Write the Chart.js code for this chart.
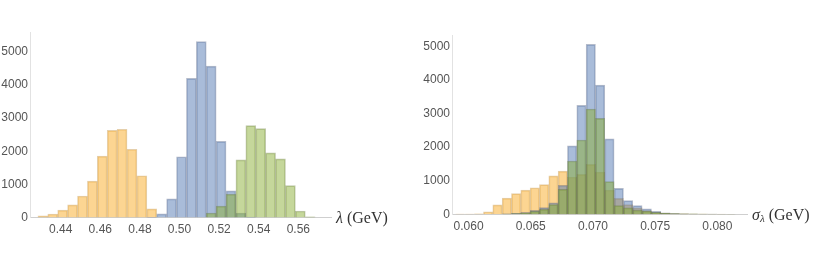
<!DOCTYPE html>
<html>
<head>
<meta charset="utf-8">
<script src="https://cdn.jsdelivr.net/npm/chart.js@4.4.0/dist/chart.umd.min.js"></script>
<style>
  html, body { margin: 0; padding: 0; background: #fff; }
  #wrap { position: relative; width: 817px; height: 268px; overflow: hidden; }
  .panel { position: absolute; top: 0; }
</style>
</head>
<body>
<div id="wrap">
  <div class="panel" style="left:0px"><canvas id="lambdaChart" width="400" height="268"></canvas></div>
  <div class="panel" style="left:400px"><canvas id="sigmaChart" width="417" height="268"></canvas></div>
</div>
<script>
// left histogram: lambda (GeV), bin centres and counts
const lambdaBins = [0.431, 0.436, 0.441, 0.446, 0.451, 0.456, 0.461, 0.466, 0.471, 0.476,
  0.481, 0.486, 0.491, 0.496, 0.501, 0.506, 0.511, 0.516, 0.521, 0.526,
  0.531, 0.536, 0.541, 0.546, 0.551, 0.556, 0.561, 0.566];
const lambdaYellow = [47, 105, 225, 380, 650, 1100, 1855, 2630, 2665, 2060,
  1260, 262, 0, 0, 0, 0, 0, 0, 0, 0,
  0, 0, 0, 0, 0, 0, 0, 0];
const lambdaBlue = [0, 0, 0, 0, 0, 0, 0, 0, 0, 0,
  0, 8, 108, 563, 1835, 4200, 5310, 4571, 2298, 803,
  136, 10, 0, 0, 0, 0, 0, 0];
const lambdaGreen = [0, 0, 0, 0, 0, 0, 0, 0, 0, 0,
  0, 0, 0, 0, 0, 0, 0, 135, 343, 707,
  1742, 2773, 2682, 1950, 1768, 960, 197, 20];
const lambdaTicks = [0.44, 0.46, 0.48, 0.50, 0.52, 0.54, 0.56];

// right histogram: sigma_lambda (GeV)
const sigmaBins = [0.059325, 0.060075, 0.060825, 0.061575, 0.062325, 0.063075, 0.063825,
  0.064575, 0.065325, 0.066075, 0.066825, 0.067575, 0.068325, 0.069075, 0.069825,
  0.070575, 0.071325, 0.072075, 0.072825, 0.073575, 0.074325, 0.075075, 0.075825,
  0.076575, 0.077325, 0.078075, 0.078825, 0.079575, 0.080325, 0.081075];
const sigmaYellow = [10, 10, 14, 75, 280, 480, 615, 720, 790, 883, 1146, 1285, 1111, 1190, 1488,
  1260, 724, 476, 290, 190, 110, 60, 35, 20, 15, 10, 6, 4, 3, 2];
const sigmaBlue = [0, 0, 0, 0, 0, 12, 30, 60, 120, 200, 345, 865, 2040, 3244, 5060,
  3849, 2245, 774, 407, 258, 160, 90, 45, 25, 12, 8, 5, 3, 2, 1];
const sigmaGreen = [0, 0, 0, 0, 0, 10, 20, 40, 90, 145, 290, 740, 1587, 2212, 3135,
  2857, 972, 258, 190, 125, 95, 55, 30, 20, 15, 12, 6, 3, 2, 1];
const sigmaTicks = [0.060, 0.065, 0.070, 0.075, 0.080];

const countTicks = [0, 1000, 2000, 3000, 4000, 5000];

const yellowFill = "rgba(250,172,38,0.5)";
const blueFill = "rgba(84,122,180,0.5)";
const greenFill = "rgba(140,175,55,0.5)";

function points(bins, counts) {
  const out = [];
  for (let i = 0; i < bins.length; i++) {
    if (counts[i] > 0) out.push({ x: bins[i], y: counts[i] });
  }
  return out;
}

// axis title drawn to the right of the x axis line
function axisLabel(parts) {
  return {
    id: "axisLabel",
    afterDraw(chart) {
      const ctx = chart.ctx;
      const area = chart.chartArea;
      let x = area.right + 5;
      const y = area.bottom + 1;
      ctx.save();
      ctx.fillStyle = "#333";
      ctx.textBaseline = "middle";
      ctx.textAlign = "left";
      parts.forEach((p) => {
        ctx.font = p.font;
        ctx.fillText(p.text, x, y + (p.dy || 0));
        x += ctx.measureText(p.text).width + (p.gap || 0);
      });
      ctx.restore();
    },
  };
}

function makeChart(id, bins, yellow, blue, green, xTicks, digits, xr, yMax, pad, labelParts) {
  const ds = (data, fill, border) => ({
    data: data,
    backgroundColor: fill,
    borderColor: border,
    borderWidth: 1,
    borderSkipped: "start",
    barPercentage: 1,
    categoryPercentage: 1,
    grouped: false,
  });
  return new Chart(document.getElementById(id), {
    type: "bar",
    data: {
      datasets: [
        ds(points(bins, green), greenFill, "rgba(95,115,45,0.4)"),
        ds(points(bins, blue), blueFill, "rgba(70,88,125,0.4)"),
        ds(points(bins, yellow), yellowFill, "rgba(190,135,45,0.4)"),
      ],
    },
    options: {
      responsive: false,
      animation: false,
      devicePixelRatio: 1,
      layout: { padding: pad },
      plugins: { legend: { display: false }, tooltip: { enabled: false } },
      scales: {
        x: {
          type: "linear",
          min: xr[0],
          max: xr[1],
          offset: false,
          grid: { display: false, drawTicks: false },
          border: { display: true, color: "#cfcfcf", width: 1 },
          afterBuildTicks: (s) => { s.ticks = xTicks.map((v) => ({ value: v })); },
          afterFit: (s) => { s.height = 20; },
          ticks: {
            color: "#555",
            font: { family: "'Liberation Sans', Arial, sans-serif", size: 12 },
            padding: 5,
            maxRotation: 0,
            autoSkip: false,
            callback: (v) => Number(v).toFixed(digits),
          },
        },
        y: {
          min: 0,
          max: yMax,
          grid: { display: false, drawTicks: false },
          border: { display: true, color: "#e2e2e2", width: 1 },
          afterBuildTicks: (s) => { s.ticks = countTicks.map((v) => ({ value: v })); },
          afterFit: (s) => { s.width = 30; },
          ticks: {
            color: "#555",
            font: { family: "'Liberation Sans', Arial, sans-serif", size: 12 },
            padding: 2,
            autoSkip: false,
            callback: (v) => String(v),
          },
        },
      },
    },
    plugins: [axisLabel(labelParts)],
  });
}

makeChart("lambdaChart", lambdaBins, lambdaYellow, lambdaBlue, lambdaGreen, lambdaTicks, 2,
  [0.4245, 0.5765], 5600, { left: 0, right: 69, top: 32, bottom: 30.5 },
  [
    { text: "\u03bb", font: "italic 16px 'Liberation Serif', serif", gap: 0 },
    { text: " (GeV)", font: "16px 'Liberation Serif', serif" },
  ]);

makeChart("sigmaChart", sigmaBins, sigmaYellow, sigmaBlue, sigmaGreen, sigmaTicks, 3,
  [0.05867, 0.08238], 5340, { left: 22, right: 70, top: 35, bottom: 33.7 },
  [
    { text: "\u03c3", font: "italic 16px 'Liberation Serif', serif", gap: 0 },
    { text: "\u03bb", font: "italic 11px 'Liberation Serif', serif", dy: 4, gap: 0 },
    { text: " (GeV)", font: "16px 'Liberation Serif', serif" },
  ]);
</script>
</body>
</html>
